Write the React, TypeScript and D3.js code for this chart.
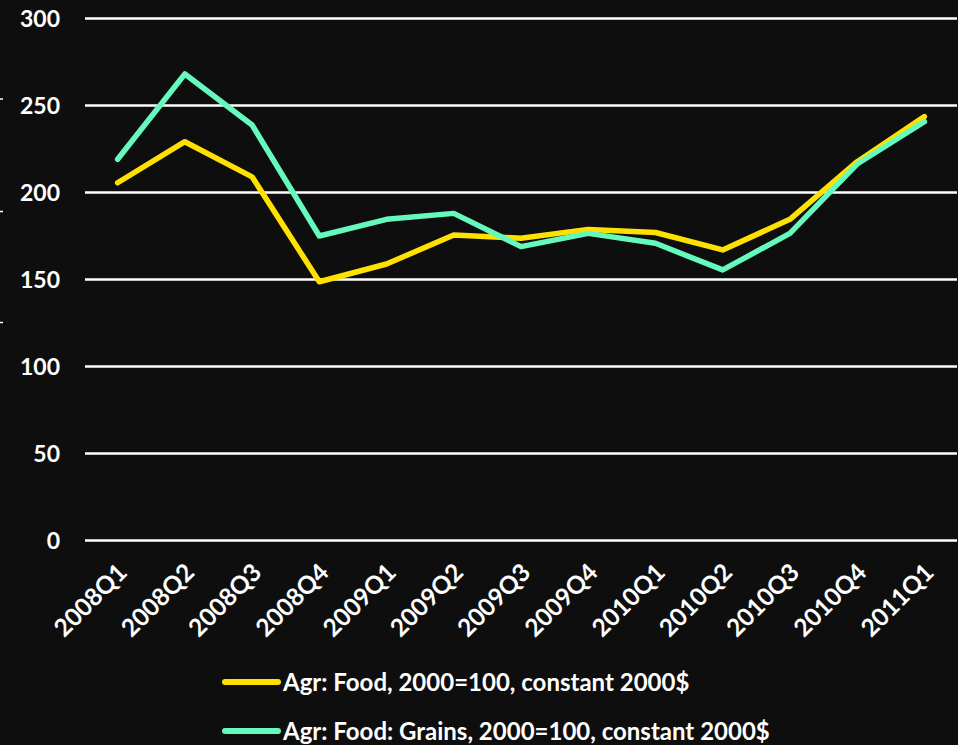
import React from "react";
import * as d3 from "d3";

const categories = ["2008Q1","2008Q2","2008Q3","2008Q4","2009Q1","2009Q2","2009Q3","2009Q4","2010Q1","2010Q2","2010Q3","2010Q4","2011Q1"];
const foodValues = [205.6, 229.2, 209, 148.7, 158.9, 175.6, 173.7, 178.8, 177, 167, 184.6, 217.7, 243.6];
const grainsValues = [219.1, 268.1, 238.8, 175, 184.6, 188, 168.9, 176.5, 170.8, 155.5, 176.5, 216.4, 240.7];
const yTicks = [0, 50, 100, 150, 200, 250, 300];
const seriesNames = ["Agr: Food, 2000=100, constant 2000$", "Agr: Food: Grains, 2000=100, constant 2000$"];
const seriesColors = ["#FFE100", "#66F9BE"];

const W = 958, H = 745;
const FONT = "Lato, 'Open Sans', sans-serif";

export default function App() {
  const x = d3.scaleBand<string>().domain(categories).range([84, 958]);
  const y = d3.scaleLinear().domain([0, 300]).range([540.5, 18.5]);
  const line = d3.line<number>()
    .x((_, i) => (x(categories[i]) as number) + x.bandwidth() / 2)
    .y((d) => y(d));
  const series = [foodValues, grainsValues];
  return (
    <svg width={W} height={H} style={{ position: "absolute", left: 0, top: 0, background: "#0E0E0E" }}>
      <rect x={0} y={0} width={W} height={H} fill="#0E0E0E" />
      {[99, 211.5, 322.5].map((yy, i) => (
        <line key={i} x1={0} x2={3} y1={yy} y2={yy} stroke="#fff" strokeWidth={1.5} />
      ))}
      {yTicks.map((t) => (
        <g key={t}>
          <line x1={85} x2={957} y1={y(t)} y2={y(t)} stroke="#fff" strokeWidth={2.5} />
          <text x={60} y={y(t)} dy="0.36em" textAnchor="end" fill="#fff" fontFamily={FONT} fontWeight={700} fontSize={23}>{t}</text>
        </g>
      ))}
      {categories.map((c) => {
        const cx = (x(c) as number) + x.bandwidth() / 2;
        return (
          <text key={c} transform={`translate(${cx + 11},${574}) rotate(-45)`} textAnchor="end" fill="#fff" fontFamily={FONT} fontWeight={700} fontSize={24.5}>{c}</text>
        );
      })}
      {series.map((s, i) => (
        <path key={i} d={line(s) || ""} fill="none" stroke={seriesColors[i]} strokeWidth={5.5} strokeLinejoin="round" strokeLinecap="round" />
      ))}
      {seriesNames.map((n, i) => {
        const ly = 682 + i * 49;
        return (
          <g key={n}>
            <line x1={225} x2={278} y1={ly} y2={ly} stroke={seriesColors[i]} strokeWidth={6} strokeLinecap="round" />
            <text x={283} y={ly} dy="0.36em" fill="#fff" fontFamily={FONT} fontWeight={700} fontSize={24}>{n}</text>
          </g>
        );
      })}
    </svg>
  );
}
